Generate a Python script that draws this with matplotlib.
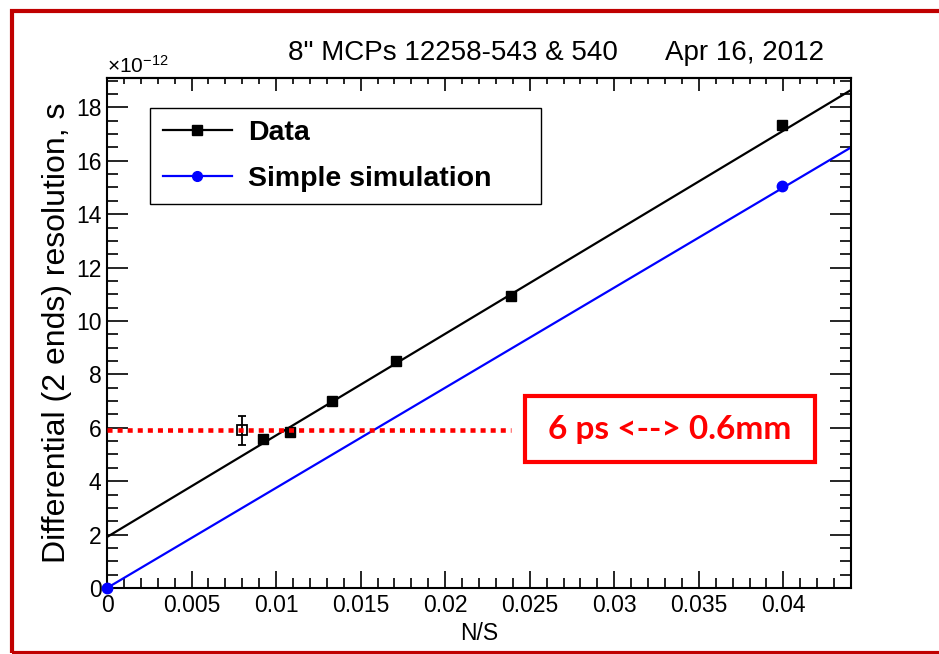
import matplotlib
matplotlib.use('Agg')
import matplotlib.pyplot as plt
from matplotlib.patches import Rectangle
from matplotlib.ticker import MultipleLocator, FuncFormatter

plt.rcParams['font.family'] = 'Liberation Sans'
plt.rcParams['mathtext.fontset'] = 'custom'
plt.rcParams['mathtext.rm'] = 'Liberation Sans'

# measured points (resolution in units of 1e-12 s)
ns_data = [0.0092, 0.0108, 0.0133, 0.0171, 0.0239, 0.0399]
res_data = [5.58, 5.84, 7.0, 8.5, 10.95, 17.35]
ns_open = [0.008]
res_open = [5.9]
err_open = [0.55]

# simple simulation points
ns_sim = [0.0, 0.0399]
res_sim = [0.0, 15.05]

# straight-line fits drawn across the full range
fit_x = [0.0, 0.044]
fit_data = [1.91, 18.65]
fit_sim = [0.0, 16.5]

# 6 ps reference level
ref_x = [0.0, 0.0239]
ref_y = [5.92, 5.92]

W, H = 939, 654
fig = plt.figure(figsize=(W / 100, H / 100), dpi=100)
ax = fig.add_axes([107 / W, 1 - 588 / H, (851 - 107) / W, (588 - 78) / H])

ax.plot(fit_x, fit_data, color='black', lw=1.6)
ax.plot(fit_x, fit_sim, color='blue', lw=1.6)
ax.plot(ns_data, res_data, 's', color='black', ms=7.5)
ax.plot(ns_sim, res_sim, 'o', color='blue', ms=7.5, clip_on=False, zorder=5)
ax.errorbar(ns_open, res_open, yerr=err_open, fmt='s', mfc='none', mec='black',
            ecolor='black', ms=7.5, mew=1.3, elinewidth=1.3, capsize=3)
ax.plot(ref_x, ref_y, color='red', lw=3.3, linestyle=(0, (1.1, 1.1)),
        dash_capstyle='butt', clip_on=False, zorder=6)

ax.set_xlim(0, 0.044)
ax.set_ylim(0, 19.1)

ax.xaxis.set_major_locator(MultipleLocator(0.005))
ax.xaxis.set_minor_locator(MultipleLocator(0.001))
ax.yaxis.set_major_locator(MultipleLocator(2))
ax.yaxis.set_minor_locator(MultipleLocator(0.5))
ax.xaxis.set_major_formatter(FuncFormatter(lambda v, p: '%g' % round(v, 4)))
ax.yaxis.set_major_formatter(FuncFormatter(lambda v, p: '%g' % v))

ax.tick_params(axis='both', which='both', direction='in', labelsize=16.5, width=1.2)
ax.tick_params(axis='x', which='major', length=12, pad=4)
ax.tick_params(axis='x', which='minor', length=7)
ax.tick_params(axis='y', which='major', length=15, right=True, pad=4)
ax.tick_params(axis='y', which='minor', length=8, right=True)
for s in ax.spines.values():
    s.set_linewidth(1.5)

top = ax.secondary_xaxis('top')
top.xaxis.set_major_locator(MultipleLocator(0.005))
top.xaxis.set_minor_locator(MultipleLocator(0.001))
top.tick_params(which='both', direction='in', labeltop=False, width=1.2)
top.tick_params(which='major', length=9)
top.tick_params(which='minor', length=4)
top.spines['top'].set_linewidth(1.5)

ax.set_xlabel('N/S', fontsize=16.5, labelpad=4)
ax.set_ylabel('Differential (2 ends) resolution, s', fontsize=23, labelpad=3)

fig.text(107 / W, 1 - 73 / H, r'$\times\mathregular{10^{-12}}$', fontsize=15,
         ha='left', va='baseline')
fig.text(618 / W, 1 - 60 / H, '8" MCPs 12258-543 & 540', fontsize=20,
         ha='right', va='baseline')
fig.text(665 / W, 1 - 60 / H, 'Apr 16, 2012', fontsize=20, ha='left', va='baseline')

# legend with a ROOT-like frame
ax.add_patch(Rectangle((150 / W, 1 - 204 / H), (541 - 150) / W, (204 - 108) / H,
                       transform=fig.transFigure, fill=True, fc='white',
                       ec='black', lw=1.0, zorder=7))
leg_handles = [
    plt.Line2D([], [], color='black', lw=1.6, marker='s', ms=7),
    plt.Line2D([], [], color='blue', lw=1.6, marker='o', ms=7),
]
leg = ax.legend(leg_handles, ['Data', 'Simple simulation'], loc='center left',
                bbox_to_anchor=(163 / W, 1 - 156 / H), bbox_transform=fig.transFigure,
                frameon=False, borderpad=0, borderaxespad=0, handlelength=2.42,
                handletextpad=0.56, labelspacing=0.68,
                prop={'weight': 'bold', 'size': 20.5})
leg.set_zorder(8)

# red note box
fig.add_artist(Rectangle((525 / W, 1 - 462 / H), (815 - 525) / W, (462 - 396) / H,
                         transform=fig.transFigure, fill=False, ec='red', lw=3))
fig.text(670 / W, 1 - 430 / H, '6 ps <--> 0.6mm', color='red', fontsize=24,
         fontweight='bold', family='Lato', ha='center', va='center')

# dark red frame around the slide
fig.add_artist(Rectangle((12 / W, 1 - 653 / H), 1.05, (653 - 11) / H,
                         transform=fig.transFigure, fill=False, ec='#C00000',
                         lw=3, clip_on=False))

fig.savefig('out.png', dpi=100)
